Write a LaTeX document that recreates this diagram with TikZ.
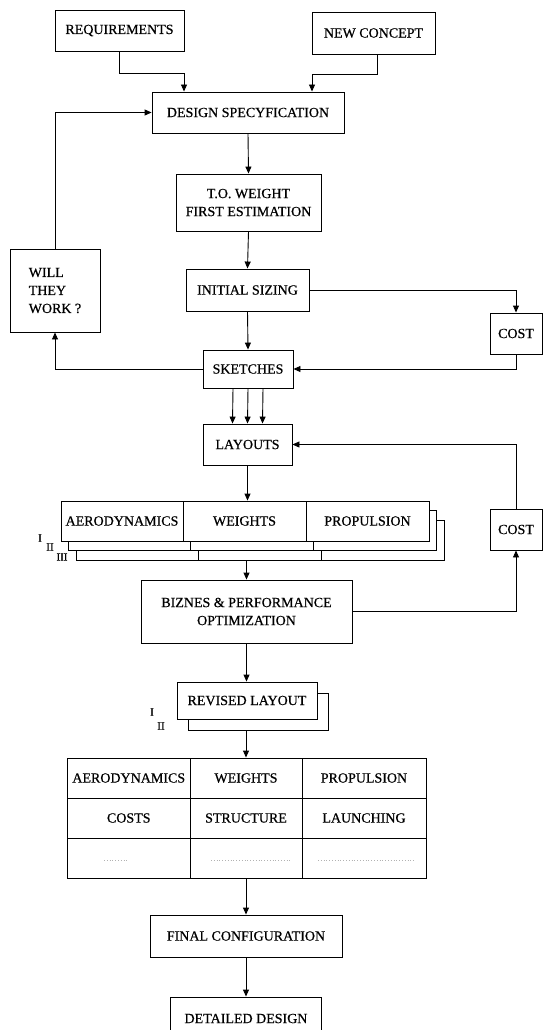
\documentclass[tikz,border=0pt]{standalone}
\usepackage{fontspec}
\setmainfont{Liberation Serif}
\newfontfamily\chartfont[FakeBold=0.6]{Liberation Serif}
\usetikzlibrary{arrows.meta}
\begin{document}
\begin{tikzpicture}[x=1pt,y=-1pt,
  box/.style={draw, line width=0.9pt, fill=white, inner sep=0pt, align=center,
              font=\chartfont\fontsize{14}{18}\selectfont},
  sz/.style 2 args={minimum width=#1, minimum height=#2},
  flow/.style={draw, line width=0.9pt, -{Triangle[length=7pt,width=6pt]}},
  tag/.style={font=\chartfont\fontsize{11}{11}\selectfont, inner sep=0pt},
  faint/.style={draw=black!30, dotted, line width=0.8pt}]
\useasboundingbox (0,0) rectangle (543,1030);
\fill[white] (0,0) rectangle (543,1030);

% --- top of the chart
\node[box, sz={129}{41}] (req) at (119.5,30.5) {REQUIREMENTS};
\node[box, sz={123}{42}] (nc) at (373.5,33) {NEW CONCEPT};
\node[box, sz={192}{41}] (ds) at (248,112.5) {DESIGN SPECYFICATION};
\node[box, sz={145}{57}] (tow) at (248.5,202.5) {T.O. WEIGHT\\FIRST ESTIMATION};
\node[box, sz={123}{42}] (is) at (247.5,290) {INITIAL SIZING};
\node[box, sz={90}{83}, align=left] (wtw) at (55,290.5) {WILL\\THEY\\WORK ?};
\node[box, sz={52}{41}] (cost1) at (516,333.5) {COST};
\node[box, sz={90}{38}] (sk) at (248,369) {SKETCHES};
\node[box, sz={89}{41}] (lay) at (247.5,444.5) {LAYOUTS};
\node[box, sz={52}{41}] (cost2) at (516,529.5) {COST};

% --- stacked analysis sheets I, II, III (back to front)
\node[box, sz={122}{40}] (a3) at (137,540) {};
\node[box, sz={123}{40}] (w3) at (259.5,540) {};
\node[box, sz={123}{40}] (p3) at (382.5,540) {};
\node[box, sz={122}{40}] (a2) at (129,530) {};
\node[box, sz={123}{40}] (w2) at (251.5,530) {};
\node[box, sz={123}{40}] (p2) at (374.5,530) {};
\node[box, sz={122}{40}] (a1) at (122,521) {AERODYNAMICS};
\node[box, sz={123}{40}] (w1) at (244.5,521) {WEIGHTS};
\node[box, sz={123}{40}] (p1) at (367.5,521) {PROPULSION};
\node[tag] (sI) at (40,538) {I};
\node[tag] (sII) at (50,547) {II};
\node[tag] (sIII) at (62,557) {III};

\node[box, sz={211}{63}] (biz) at (246.5,611.5) {BIZNES \& PERFORMANCE\\OPTIMIZATION};

% --- revised layout, two sheets
\node[box, sz={140}{37}] (rev2) at (258,711.5) {};
\node[box, sz={140}{37}] (rev) at (247,700.5) {REVISED LAYOUT};
\node[tag] (rI) at (152,712) {I};
\node[tag] (rII) at (161,726) {II};

% --- detailed analysis table
\node[box, sz={122.5}{40}] (t11) at (128.75,778) {AERODYNAMICS};
\node[box, sz={112}{40}]   (t12) at (246,778) {WEIGHTS};
\node[box, sz={124}{40}]   (t13) at (364,778) {PROPULSION};
\node[box, sz={122.5}{40}] (t21) at (128.75,818) {COSTS};
\node[box, sz={112}{40}]   (t22) at (246,818) {STRUCTURE};
\node[box, sz={124}{40}]   (t23) at (364,818) {LAUNCHING};
\node[box, sz={122.5}{40}] (t31) at (128.75,858) {};
\node[box, sz={112}{40}]   (t32) at (246,858) {};
\node[box, sz={124}{40}]   (t33) at (364,858) {};
\draw[faint] (104,860) -- (128,860);
\draw[faint] (211,860) -- (291,860);
\draw[faint] (318,860) -- (415,860);

\node[box, sz={192}{42}] (fin) at (246,936) {FINAL CONFIGURATION};
\node[box, sz={151}{43}] (det) at (246,1018.5) {DETAILED DESIGN};

% --- connectors
\draw[flow] (req.south) -- ++(0,22) -| ([xshift=-64]ds.north);
\draw[flow] ([xshift=3.5]nc.south) -- ++(0,20) -| ([xshift=64]ds.north);
\draw[flow] (wtw.north) |- (ds.west);
\draw[flow] (ds.south) -- (tow.north);
\draw[flow] (tow.south) -- (is.north);
\draw[flow] (is.south) -- (sk.north);
\draw[flow] (is.east) -| (cost1.north);
\draw[flow] (cost1.south) |- (sk.east);
\draw[flow] (sk.west) -| (wtw.south);
\foreach \s in {-15,0,15}
  \draw[flow] ([xshift=\s]sk.south) -- ([xshift=\s]lay.north);
\draw[flow] (cost2.north) |- (lay.east);
\draw[flow] (lay.south) -- (lay.south |- w1.north);
\draw[flow] (w3.south -| biz.north) -- (biz.north);
\draw[flow] (biz.east) -| (cost2.south);
\draw[flow] (biz.south) -- (biz.south |- rev.north);
\draw[flow] (rev2.south -| t12.north) -- (t12.north);
\draw[flow] (t32.south) -- (fin.north);
\draw[flow] (fin.south) -- (det.north);
\end{tikzpicture}
\end{document}
